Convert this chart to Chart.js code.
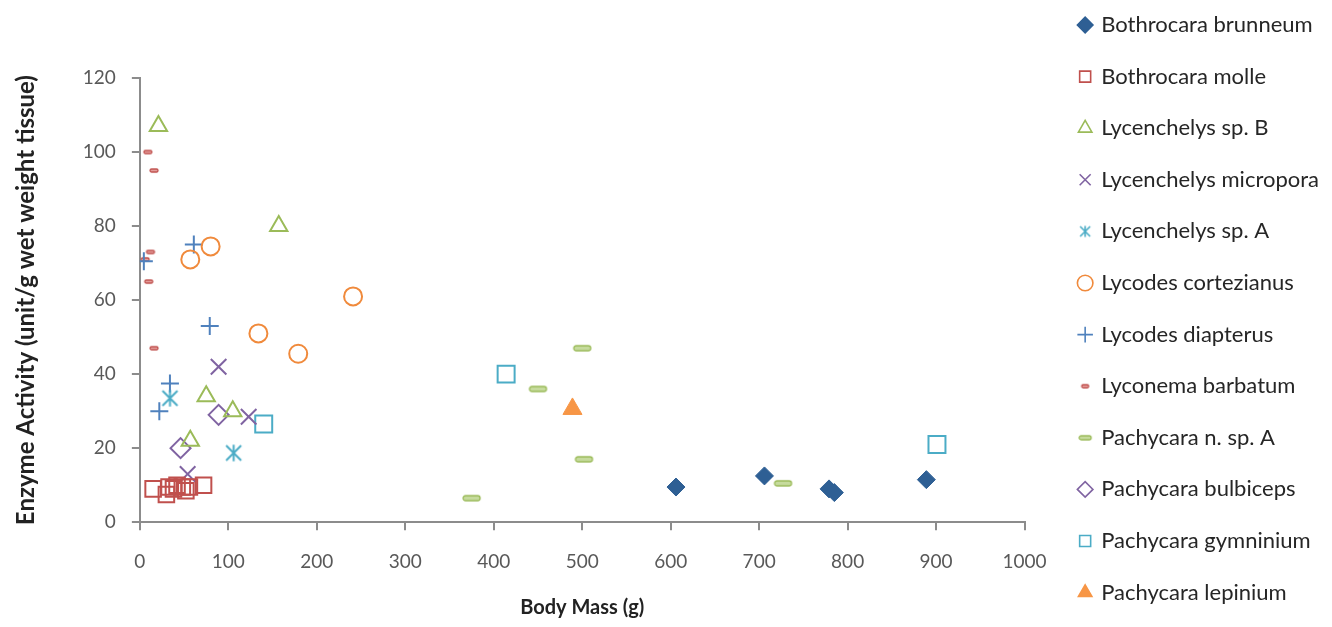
<!DOCTYPE html>
<html>
<head>
<meta charset="utf-8">
<script src="https://cdn.jsdelivr.net/npm/chart.js@4/dist/chart.umd.min.js"></script>
<style>
  html, body { margin: 0; padding: 0; background: #fff; }
  #wrap { width: 1332px; height: 627px; }
</style>
</head>
<body>
<div id="wrap"><canvas id="myChart"></canvas></div>
<script>
// body mass (g) and enzyme activity (unit/g wet weight tissue)
const bothrocaraBrunneum = [[606, 9.5], [706, 12.5], [779, 9], [785, 8], [889, 11.5]];
const bothrocaraMolle = [[15, 9], [30, 7.5], [33, 9.5], [38, 9], [42, 10], [48, 9.5], [52, 8.5], [56, 9.5], [72, 10]];
const lycenchelysSpB = [[21, 107], [57, 22], [75, 34], [105, 30], [157, 80]];
const lycenchelysMicropora = [[54, 13], [89, 42], [123, 28.5]];
const lycenchelysSpA = [[34, 33.5], [106, 18.7]];
const lycodesCortezianus = [[57, 71], [80, 74.5], [134, 51], [179, 45.5], [241, 61]];
const lycodesDiapterus = [[4.5, 70.5], [22, 30], [34, 37.5], [61, 75], [79, 53]];
const lyconemaBarbatum = [[6, 71], [9, 100], [10, 65], [12, 73], [16, 95], [16, 47]];
const pachycaraNSpA = [[375, 6.5], [450, 36], [500, 47], [502, 17], [727, 10.5]];
const pachycaraBulbiceps = [[46, 20], [89, 29]];
const pachycaraGymninium = [[140, 26.5], [414, 40], [901, 21]];
const pachycaraLepinium = [[489, 30.6]];

const xTicks = [0, 100, 200, 300, 400, 500, 600, 700, 800, 900, 1000];
const yTicks = [0, 20, 40, 60, 80, 100, 120];

const FONT = 'Lato, "Open Sans", sans-serif';

function toPoints(arr) {
    return arr.map(p => ({ x: p[0], y: p[1] }));
}

// excel style dash marker (rounded bar)
function makeDash(w, h, fill, stroke) {
    const c = document.createElement('canvas');
    c.width = w + 4;
    c.height = h + 4;
    const ctx = c.getContext('2d');
    const r = h / 2;
    ctx.beginPath();
    ctx.moveTo(2 + r, 2);
    ctx.lineTo(2 + w - r, 2);
    ctx.arc(2 + w - r, 2 + r, r, -Math.PI / 2, Math.PI / 2);
    ctx.lineTo(2 + r, 2 + h);
    ctx.arc(2 + r, 2 + r, r, Math.PI / 2, Math.PI * 1.5);
    ctx.closePath();
    ctx.fillStyle = fill;
    ctx.fill();
    ctx.lineWidth = 1.3;
    ctx.strokeStyle = stroke;
    ctx.stroke();
    return c;
}

// excel style asterisk: an x with a vertical bar
function makeAsterisk(size, color, lw) {
    const c = document.createElement('canvas');
    c.width = size + 4;
    c.height = size + 4;
    const ctx = c.getContext('2d');
    const m = c.width / 2;
    const h = size / 2;
    ctx.strokeStyle = color;
    ctx.lineWidth = lw;
    ctx.beginPath();
    ctx.moveTo(m - h, m - h); ctx.lineTo(m + h, m + h);
    ctx.moveTo(m + h, m - h); ctx.lineTo(m - h, m + h);
    ctx.moveTo(m, m - h * 1.1); ctx.lineTo(m, m + h * 1.1);
    ctx.stroke();
    return c;
}

const dashGreen = makeDash(17, 5, '#c6db9d', '#9bbb59');
const dashRed = makeDash(8, 3, '#e6a09e', '#c0504d');
const asteriskPlot = makeAsterisk(15, '#4bacc6', 2);
const dashGreenLegend = makeDash(12, 4, '#c6db9d', '#9bbb59');
const dashRedLegend = makeDash(7, 3, '#e6a09e', '#c0504d');
const asteriskLegend = makeAsterisk(10, '#4bacc6', 1.6);

const datasets = [
    { label: 'Bothrocara brunneum', data: toPoints(bothrocaraBrunneum), pointStyle: 'rectRot', pointRadius: 9, backgroundColor: '#2e5f94', borderColor: '#2e5f94', borderWidth: 1 },
    { label: 'Bothrocara molle', data: toPoints(bothrocaraMolle), pointStyle: 'rect', pointRadius: 11, backgroundColor: 'rgba(0,0,0,0)', borderColor: '#c0504d', borderWidth: 2 },
    { label: 'Lycenchelys sp. B', data: toPoints(lycenchelysSpB), pointStyle: 'triangle', pointRadius: 10, backgroundColor: 'rgba(0,0,0,0)', borderColor: '#9bbb59', borderWidth: 2 },
    { label: 'Lycenchelys micropora', data: toPoints(lycenchelysMicropora), pointStyle: 'crossRot', pointRadius: 11, backgroundColor: 'rgba(0,0,0,0)', borderColor: '#8064a2', borderWidth: 2 },
    { label: 'Lycenchelys sp. A', data: toPoints(lycenchelysSpA), pointStyle: asteriskPlot, pointRadius: 9, backgroundColor: '#4bacc6', borderColor: '#4bacc6', borderWidth: 2 },
    { label: 'Lycodes cortezianus', data: toPoints(lycodesCortezianus), pointStyle: 'circle', pointRadius: 9, backgroundColor: 'rgba(0,0,0,0)', borderColor: '#f08a3c', borderWidth: 2 },
    { label: 'Lycodes diapterus', data: toPoints(lycodesDiapterus), pointStyle: 'cross', pointRadius: 9, backgroundColor: 'rgba(0,0,0,0)', borderColor: '#4f81bd', borderWidth: 2 },
    { label: 'Lyconema barbatum', data: toPoints(lyconemaBarbatum), pointStyle: dashRed, pointRadius: 5, backgroundColor: '#c0504d', borderColor: '#c0504d', borderWidth: 2 },
    { label: 'Pachycara n. sp. A', data: toPoints(pachycaraNSpA), pointStyle: dashGreen, pointRadius: 9, backgroundColor: '#9bbb59', borderColor: '#9bbb59', borderWidth: 2 },
    { label: 'Pachycara bulbiceps', data: toPoints(pachycaraBulbiceps), pointStyle: 'rectRot', pointRadius: 10, backgroundColor: 'rgba(0,0,0,0)', borderColor: '#8064a2', borderWidth: 2 },
    { label: 'Pachycara gymninium', data: toPoints(pachycaraGymninium), pointStyle: 'rect', pointRadius: 12, backgroundColor: 'rgba(0,0,0,0)', borderColor: '#4bacc6', borderWidth: 2 },
    { label: 'Pachycara lepinium', data: toPoints(pachycaraLepinium), pointStyle: 'triangle', pointRadius: 11, backgroundColor: '#f79646', borderColor: '#f79646', borderWidth: 1 }
];

const legendStyles = {
    'Lycenchelys sp. A': asteriskLegend,
    'Lyconema barbatum': dashRedLegend,
    'Pachycara n. sp. A': dashGreenLegend
};

const LEGEND_PAD = 29.6;

// keep the legend in a single column even with the wide row spacing
const oneColumnLegend = {
    id: 'oneColumnLegend',
    afterInit(chart) {
        const legend = chart.legend;
        const fit = legend.fit;
        const draw = legend.draw;
        legend.fit = function () {
            this.maxHeight = 2000;
            fit.call(this);
        };
        legend.draw = function () {
            const top = this.top;
            const bottom = this.bottom;
            this.top = 14 - LEGEND_PAD;
            this.bottom = 2000;
            draw.call(this);
            this.top = top;
            this.bottom = bottom;
        };
    }
};

const ctx = document.getElementById('myChart').getContext('2d');
const myChart = new Chart(ctx, {
    type: 'scatter',
    data: { datasets: datasets },
    plugins: [oneColumnLegend],
    options: {
        responsive: true,
        maintainAspectRatio: false,
        animation: false,
        layout: { padding: { top: 0, left: 4, right: 3, bottom: 4 } },
        plugins: {
            tooltip: { enabled: false },
            legend: {
                position: 'right',
                align: 'start',
                maxWidth: 320,
                labels: {
                    usePointStyle: true,
                    boxWidth: 10,
                    boxHeight: 11,
                    padding: LEGEND_PAD,
                    color: '#262626',
                    font: { family: FONT, size: 22 },
                    generateLabels: function (chart) {
                        const items = Chart.defaults.plugins.legend.labels.generateLabels(chart);
                        items.forEach(item => {
                            if (legendStyles[item.text]) {
                                item.pointStyle = legendStyles[item.text];
                            }
                            item.lineWidth = 1.6;
                        });
                        return items;
                    }
                }
            }
        },
        scales: {
            x: {
                type: 'linear',
                min: 0,
                max: 1000,
                afterBuildTicks: axis => { axis.ticks = xTicks.map(v => ({ value: v })); },
                grid: { drawOnChartArea: false, drawTicks: true, tickLength: 8, color: '#8c8c8c', lineWidth: 2 },
                border: { color: '#8c8c8c', width: 2 },
                ticks: { color: '#595959', font: { family: FONT, size: 19 }, padding: 20, maxRotation: 0, callback: v => String(v) },
                title: { display: true, text: 'Body Mass (g)', color: '#222', font: { family: FONT, size: 20, weight: 'bold' }, padding: { top: 3, bottom: 3 } }
            },
            y: {
                type: 'linear',
                min: 0,
                max: 120,
                afterBuildTicks: axis => { axis.ticks = yTicks.map(v => ({ value: v })); },
                afterFit: axis => { axis.paddingTop = 78; },
                grid: { drawOnChartArea: false, drawTicks: true, tickLength: 8, color: '#8c8c8c', lineWidth: 2 },
                border: { color: '#8c8c8c', width: 2 },
                ticks: { color: '#595959', font: { family: FONT, size: 19 }, padding: 16, callback: v => String(v) },
                title: { display: true, text: 'Enzyme Activity (unit/g wet weight tissue)', color: '#222', font: { family: FONT, size: 24, weight: 'bold' }, padding: { top: 8, bottom: 26 } }
            },
            // empty spacer between the plot and the legend
            gap: {
                type: 'linear',
                position: 'right',
                display: true,
                grid: { display: false },
                border: { display: false },
                ticks: { display: false },
                afterFit: axis => { axis.width = 26; }
            }
        }
    }
});
</script>
</body>
</html>
